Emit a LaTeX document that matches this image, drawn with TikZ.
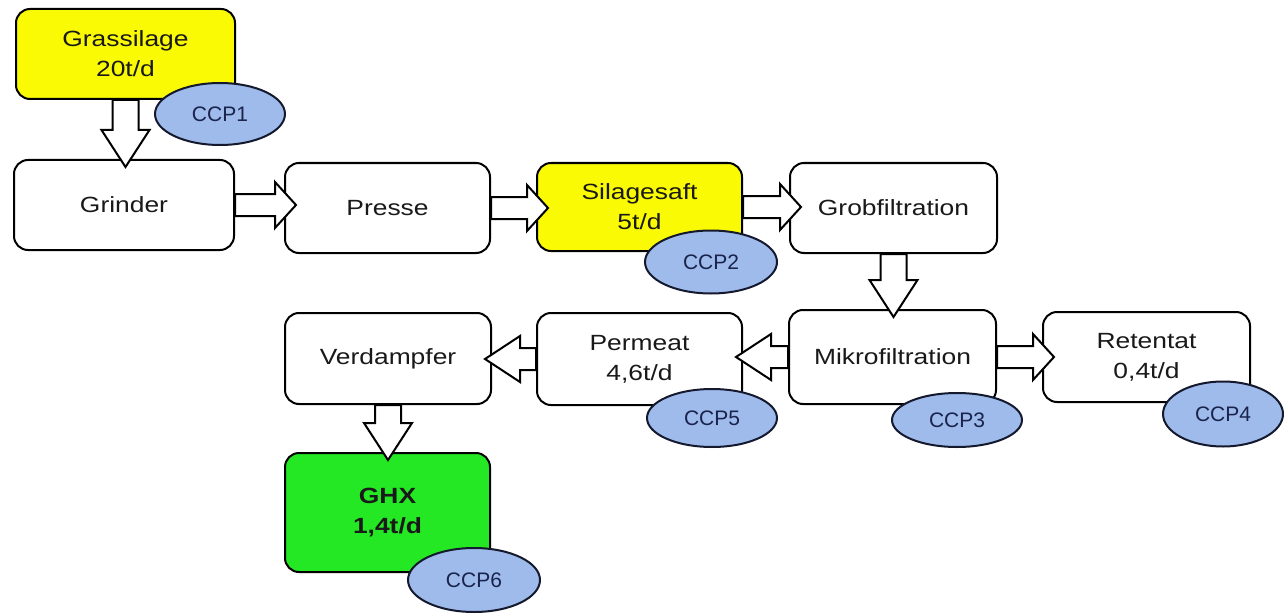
\documentclass[tikz,border=0pt]{standalone}
\usepackage{fontspec}
\setmainfont{Liberation Sans}
\newfontfamily\stretchfont{Liberation Sans}[FakeStretch=1.2]
\usetikzlibrary{shapes.geometric,calc}
\definecolor{yel}{RGB}{250,250,5}
\definecolor{grn}{RGB}{35,232,35}
\definecolor{ccpfill}{RGB}{158,187,236}
\definecolor{ccpline}{RGB}{20,25,45}
\definecolor{ccptxt}{RGB}{25,35,75}
\definecolor{txt}{RGB}{25,25,25}
\newcommand{\arrR}[2]{\path[blk] let \p1=(#1.east), \p2=(#2.west) in
  (\x1,\y1+11pt) -- (\x2-9pt,\y1+11pt) -- (\x2-9pt,\y1+23pt) -- (\x2+12pt,\y1)
  -- (\x2-9pt,\y1-23pt) -- (\x2-9pt,\y1-11pt) -- (\x1,\y1-11pt) -- cycle;}
\newcommand{\arrL}[2]{\path[blk] let \p1=(#1.west), \p2=(#2.east) in
  (\x1,\y1+11pt) -- (\x2+28pt,\y1+11pt) -- (\x2+28pt,\y1+23pt) -- (\x2-7pt,\y1)
  -- (\x2+28pt,\y1-23pt) -- (\x2+28pt,\y1-11pt) -- (\x1,\y1-11pt) -- cycle;}
\newcommand{\arrD}[2]{\path[blk] let \p1=(#1.south), \p2=(#2.north) in
  (\x1-13pt,\y1) -- (\x1-13pt,\y2+29pt) -- (\x1-24pt,\y2+29pt) -- (\x1,\y2-8pt)
  -- (\x1+24pt,\y2+29pt) -- (\x1+13pt,\y2+29pt) -- (\x1+13pt,\y1) -- cycle;}
\begin{document}
\begin{tikzpicture}[x=1pt,y=-1pt,
  stepbox/.style={draw=black, line width=2pt, rounded corners=14pt, fill=white,
    align=center, inner sep=0pt, text=txt,
    font=\stretchfont\fontsize{22pt}{30pt}\selectfont},
  ccp/.style={ellipse, draw=ccpline, line width=2pt, fill=ccpfill, inner sep=0pt,
    text=ccptxt, font=\fontsize{21pt}{25pt}\selectfont},
  blk/.style={draw=black, fill=white, line width=2pt, line join=miter}]
\useasboundingbox (0,0) rectangle (1285,615);

% boxes
\node[stepbox, fill=yel, minimum width=219pt, minimum height=90pt] (grass) at (125.5,54) {Grassilage\\20t/d};
\node[stepbox, minimum width=220pt, minimum height=90pt] (grinder) at (124,205) {Grinder};
\node[stepbox, minimum width=205pt, minimum height=90pt] (presse) at (387.5,208) {Presse};
\node[stepbox, fill=yel, minimum width=205pt, minimum height=88pt] (silage) at (639.5,207) {Silagesaft\\5t/d};
\node[stepbox, minimum width=207pt, minimum height=90pt] (grob) at (893.5,208) {Grobfiltration};
\node[stepbox, minimum width=207pt, minimum height=94pt] (mikro) at (892.5,357) {Mikrofiltration};
\node[stepbox, minimum width=205pt, minimum height=92pt] (permeat) at (639.5,359) {Permeat\\4,6t/d};
\node[stepbox, minimum width=207pt, minimum height=90pt] (retentat) at (1146.5,357) {Retentat\\0,4t/d};
\node[stepbox, minimum width=206pt, minimum height=91pt] (verd) at (388,358.5) {Verdampfer};
\node[stepbox, fill=grn, minimum width=205pt, minimum height=119pt] (ghx) at (387.5,512.5) {\bfseries GHX\\\bfseries 1,4t/d};

% block arrows
\arrD{grass}{grinder}
\arrR{grinder}{presse}
\arrR{presse}{silage}
\arrR{silage}{grob}
\arrD{grob}{mikro}
\arrL{mikro}{permeat}
\arrR{mikro}{retentat}
\arrL{permeat}{verd}
\arrD{verd}{ghx}

% control points
\node[ccp, minimum width=130pt, minimum height=62pt] (ccp1) at (220,114) {CCP1};
\node[ccp, minimum width=132pt, minimum height=63pt] (ccp2) at (711,262) {CCP2};
\node[ccp, minimum width=130pt, minimum height=54pt] (ccp3) at (957,420) {CCP3};
\node[ccp, minimum width=120pt, minimum height=65pt] (ccp4) at (1223,414) {CCP4};
\node[ccp, minimum width=130pt, minimum height=58pt] (ccp5) at (712,418) {CCP5};
\node[ccp, minimum width=132pt, minimum height=64pt] (ccp6) at (474,580) {CCP6};
\end{tikzpicture}
\end{document}
